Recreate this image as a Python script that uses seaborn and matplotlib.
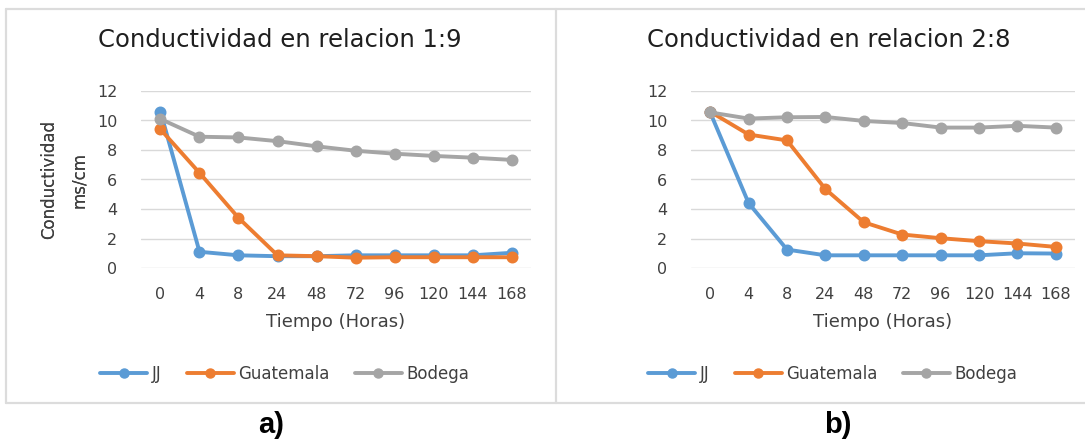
import matplotlib
matplotlib.use("Agg")
import matplotlib.pyplot as plt
from matplotlib.lines import Line2D
import numpy as np
import pandas as pd
import seaborn as sns

# Sampling times (hours)
horas = ["0", "4", "8", "24", "48", "72", "96", "120", "144", "168"]
muestras = ["JJ", "Guatemala", "Bodega"]
colores = ["#5B9BD5", "#ED7D31", "#A5A5A5"]

# Conductivity (mS/cm), ratio 1:9
jj_19 = [10.6, 1.1, 0.86, 0.8, 0.8, 0.86, 0.86, 0.86, 0.86, 1.03]
guate_19 = [9.4, 6.45, 3.4, 0.86, 0.8, 0.7, 0.73, 0.73, 0.73, 0.73]
bodega_19 = [10.1, 8.9, 8.85, 8.6, 8.25, 7.95, 7.75, 7.6, 7.48, 7.33]

# Conductivity (mS/cm), ratio 2:8
jj_28 = [10.55, 4.4, 1.25, 0.86, 0.86, 0.86, 0.86, 0.86, 1.0, 0.98]
guate_28 = [10.6, 9.05, 8.65, 5.35, 3.1, 2.27, 2.02, 1.82, 1.66, 1.43]
bodega_28 = [10.55, 10.13, 10.22, 10.24, 9.97, 9.83, 9.52, 9.52, 9.64, 9.52]

titulos = ["Conductividad en relacion 1:9", "Conductividad en relacion 2:8"]
etiquetas = ["a)", "b)"]


def tabla(jj, guate, bodega):
    filas = []
    for nombre, valores in zip(muestras, [jj, guate, bodega]):
        for h, v in zip(horas, valores):
            filas.append({"Horas": h, "Conductividad": v, "Muestra": nombre})
    return pd.DataFrame(filas)


datos = [tabla(jj_19, guate_19, bodega_19), tabla(jj_28, guate_28, bodega_28)]

sns.set_theme(style="white")
plt.rcParams["font.family"] = ["DejaVu Sans"]

W, H = 1085, 444
fig = plt.figure(figsize=(W / 100, H / 100), dpi=100, facecolor="white")

texto = "#404040"
rejilla = "#D9D9D9"

# panel geometry in pixels: axes left, axes right, title/legend centre, caption centre
paneles = [
    dict(x0=141, x1=531, tc=280, lc=285, cc=271),
    dict(x0=691, x1=1075, tc=829, lc=833, cc=838),
]
y_top, y_bot = 91, 268
lw, ms = 2.8, 6.5

for df, tit, etq, p in zip(datos, titulos, etiquetas, paneles):
    ax = fig.add_axes([p["x0"] / W, 1 - y_bot / H, (p["x1"] - p["x0"]) / W, (y_bot - y_top) / H])
    sns.pointplot(
        data=df, x="Horas", y="Conductividad", hue="Muestra",
        order=horas, hue_order=muestras, palette=colores,
        markers="o", linestyles="-", errorbar=None, ax=ax,
        markersize=ms, linewidth=lw,
    )
    if ax.get_legend() is not None:
        ax.get_legend().remove()

    ax.set_ylim(0, 12)
    ax.set_yticks(np.arange(0, 13, 2))
    ax.set_xlim(-0.5, len(horas) - 0.5)
    ax.grid(axis="y", color=rejilla, linewidth=1.0)
    ax.grid(axis="x", visible=False)
    ax.set_axisbelow(True)
    for s in ax.spines.values():
        s.set_visible(False)
    ax.tick_params(axis="y", length=0, pad=17, labelsize=11.5, labelcolor=texto)
    ax.tick_params(axis="x", length=0, pad=14, labelsize=11.5, labelcolor=texto)

    ax.set_xlabel("Tiempo (Horas)", fontsize=13, color=texto)
    ax.xaxis.label.set_va("center")
    ax.xaxis.set_label_coords(0.5, -(322 - y_bot) / (y_bot - y_top))

    ax.set_ylabel("Conductividad\nms/cm", fontsize=12, color=texto, linespacing=1.8)
    ax.yaxis.label.set_va("center")
    ax.yaxis.set_label_coords(-(p["x0"] - 64) / (p["x1"] - p["x0"]), 0.5)

    fig.text(p["tc"] / W, 1 - 47 / H, tit, ha="center", va="baseline",
             fontsize=17.5, color="#1f1f1f")

    leg_handles = [
        Line2D([0], [0], color=c, lw=lw, marker="o", markersize=ms)
        for c in colores
    ]
    fig.legend(
        leg_handles, muestras, loc="center",
        bbox_to_anchor=(p["lc"] / W, 1 - 374 / H), ncol=3, frameon=False,
        fontsize=12, handlelength=2.8, handletextpad=0.3, columnspacing=1.5,
        labelcolor=texto,
    )

    fig.text(p["cc"] / W, 1 - 425 / H, etq, ha="center", va="center",
             fontsize=21, fontweight="bold", family="Liberation Sans", color="black")

# light frames around the two charts
borde = "#DCDCDC"
marcos = [
    ([6, 1085], [9.5, 9.5]),
    ([6, 1085], [403, 403]),
    ([6, 6], [9.5, 403]),
    ([556, 556], [9.5, 403]),
]
for xs, ys in marcos:
    fig.add_artist(Line2D([x / W for x in xs], [1 - y / H for y in ys],
                          transform=fig.transFigure, color=borde, lw=1.6))

fig.savefig("out.png", dpi=100, facecolor="white")
